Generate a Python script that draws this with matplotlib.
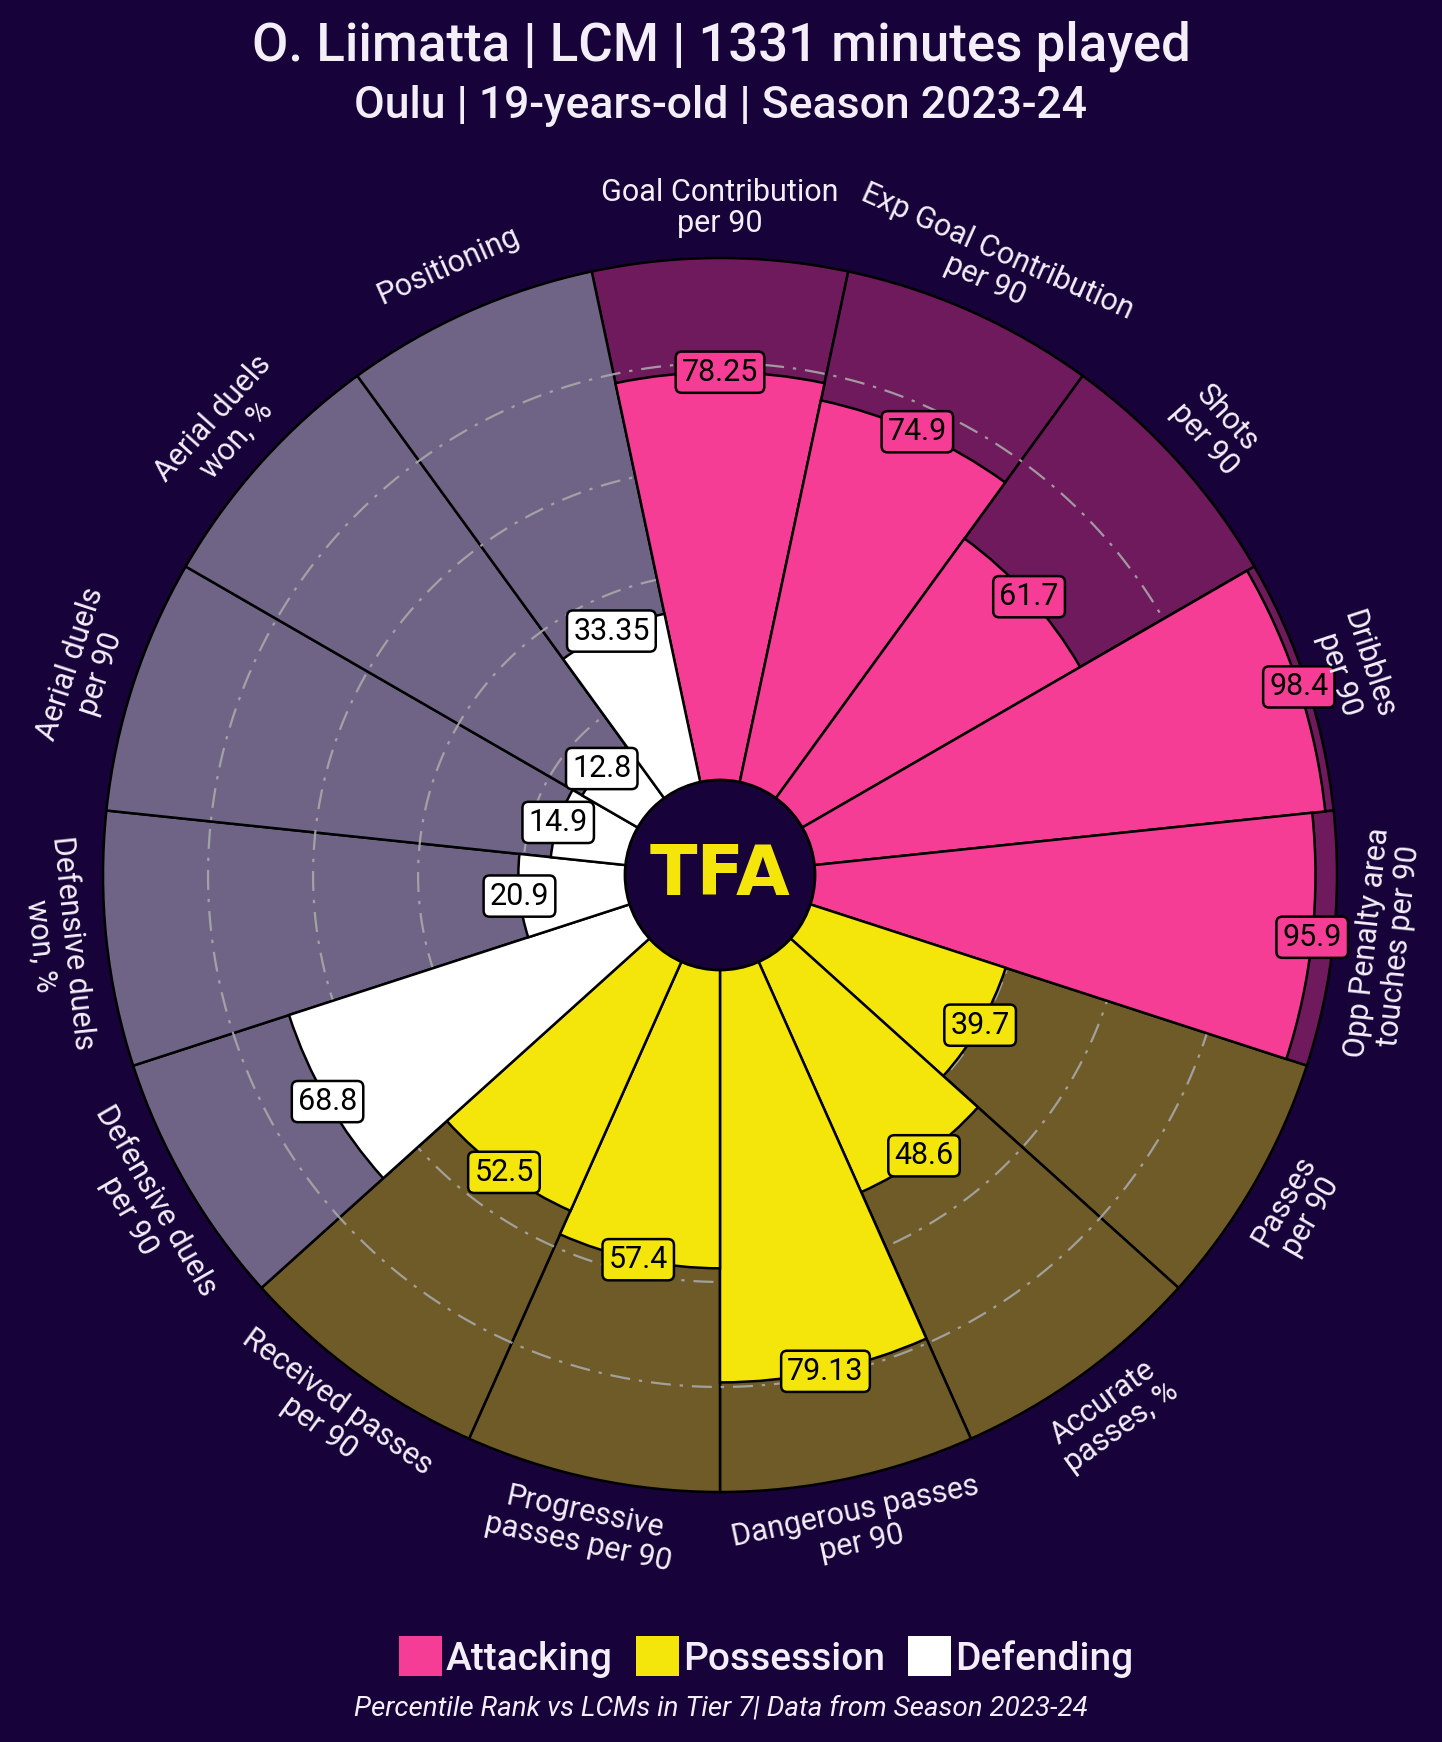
import numpy as np
import matplotlib
matplotlib.use("Agg")
import matplotlib.pyplot as plt
from matplotlib.patches import Patch, Circle

# ---------------- data ----------------
params = [
    "Goal Contribution\nper 90",
    "Exp Goal Contribution\nper 90",
    "Shots\nper 90",
    "Dribbles\nper 90",
    "Opp Penalty area\ntouches per 90",
    "Passes\nper 90",
    "Accurate\npasses, %",
    "Dangerous passes\nper 90",
    "Progressive\npasses per 90",
    "Received passes\nper 90",
    "Defensive duels\nper 90",
    "Defensive duels\nwon, %",
    "Aerial duels\nper 90",
    "Aerial duels\nwon, %",
    "Positioning",
]
values = [78.25, 74.9, 61.7, 98.4, 95.9, 39.7, 48.6, 79.13, 57.4, 52.5,
          68.8, 20.9, 14.9, 12.8, 33.35]
value_labels = ["78.25", "74.9", "61.7", "98.4", "95.9", "39.7", "48.6", "79.13",
                "57.4", "52.5", "68.8", "20.9", "14.9", "12.8", "33.35"]
groups = ["Attacking"] * 5 + ["Possession"] * 5 + ["Defending"] * 5
group_names = ["Attacking", "Possession", "Defending"]
grid_levels = [20, 40, 60, 80]

title = "O. Liimatta | LCM | 1331 minutes played"
subtitle = "Oulu | 19-years-old | Season 2023-24"
footer = "Percentile Rank vs LCMs in Tier 7| Data from Season 2023-24"
logo_text = "TFA"

# ---------------- style ----------------
BG = "#17033A"
TEXT = "#F3EEF8"
slice_colors = {"Attacking": "#F63D95", "Possession": "#F4E60A", "Defending": "#FFFFFF"}
back_colors = {"Attacking": "#6F1A5C", "Possession": "#6E5B28", "Defending": "#706486"}

plt.rcParams["font.family"] = ["Roboto", "DejaVu Sans"]

W, H = 1442, 1742
fig = plt.figure(figsize=(W / 100, H / 100), dpi=100, facecolor=BG)

cx, cy, R = 720, 875, 617
ax = fig.add_axes([(cx - R) / W, (H - cy - R) / H, 2 * R / W, 2 * R / H],
                  projection="polar")
ax.set_facecolor("none")
ax.set_ylim(0, 100)
ax.set_rorigin(-17.5)
ax.grid(False)
ax.spines["polar"].set_visible(False)
ax.set_xticks([])
ax.set_yticks([])

n = len(params)
step = 2 * np.pi / n
thetas = np.pi / 2 - step * np.arange(n)

# background slices
ax.bar(thetas, [100] * n, width=step, bottom=0,
       color=[back_colors[g] for g in groups], edgecolor="black",
       linewidth=1.8, zorder=1, clip_on=False)

# grid circles
tt = np.linspace(0, 2 * np.pi, 720)
for lv in grid_levels:
    ax.plot(tt, np.full_like(tt, lv), color="#A8A8A8", lw=1.6,
            ls=(0, (9, 4, 1.5, 4)), zorder=2, alpha=0.9)

# value slices
ax.bar(thetas, values, width=step, bottom=0,
       color=[slice_colors[g] for g in groups], edgecolor="black",
       linewidth=1.8, zorder=3, clip_on=False)

# value labels
for th, v, lab, g in zip(thetas, values, value_labels, groups):
    ax.text(th, v, lab, ha="center", va="center", fontsize=22, color="black",
            zorder=6,
            bbox=dict(boxstyle="round,pad=0.2", fc=slice_colors[g], ec="black", lw=1.8))

# parameter labels
for th, p in zip(thetas, params):
    rot = np.degrees(th) - 90
    while rot <= -90:
        rot += 180
    while rot > 90:
        rot -= 180
    ax.text(th, 109.5, p, ha="center", va="center", rotation=rot,
            rotation_mode="anchor", fontsize=22, color=TEXT, linespacing=1.1,
            zorder=6)

# centre logo
circ = Circle((0.5, 0.5), 95 / (2 * R), transform=ax.transAxes, fc=BG,
              ec="black", lw=2, zorder=8, clip_on=False)
ax.add_patch(circ)
ax.text(0.5, 0.5, logo_text, transform=ax.transAxes, ha="center", va="center",
        fontsize=50, fontweight="heavy", color="#F4E60A", zorder=9,
        family=["DejaVu Sans"])

# titles
fig.text(0.5, 1 - 60 / H, title, ha="center", va="baseline", fontsize=38,
         color=TEXT, fontweight="medium")
fig.text(0.5, 1 - 118 / H, subtitle, ha="center", va="baseline", fontsize=32,
         color=TEXT, fontweight="medium")

# legend
handles = [Patch(facecolor=slice_colors[g], edgecolor="none", label=g) for g in group_names]
leg = fig.legend(handles=handles, loc="center", bbox_to_anchor=(766 / W, 1 - 1657 / H),
                 ncol=3, frameon=False, handlelength=1.1, handleheight=1.2,
                 handletextpad=0.1, columnspacing=0.6,
                 prop={"size": 28, "weight": "medium"})
for t in leg.get_texts():
    t.set_color(TEXT)

fig.text(0.5, 1 - 1708 / H, footer, ha="center", va="center", fontsize=20,
         color=TEXT, style="italic")

fig.savefig("out.png", dpi=100, facecolor=BG)
